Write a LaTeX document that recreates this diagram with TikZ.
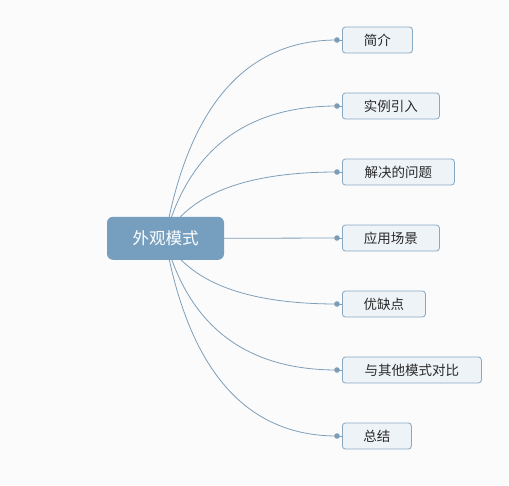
\documentclass[tikz,border=0pt]{standalone}
\usepackage{fontspec}
\newfontfamily\cjk{Noto Sans CJK SC}
\usetikzlibrary{calc,backgrounds}
\definecolor{bgc}{HTML}{FBFBFC}
\definecolor{rootfill}{HTML}{769FBF}
\definecolor{kidfill}{HTML}{EEF3F7}
\definecolor{kiddraw}{HTML}{86A8C3}
\definecolor{linec}{HTML}{7E9FB9}
\definecolor{dotc}{HTML}{7D9DB7}
\definecolor{txt}{HTML}{2A2A2A}
\tikzset{
  rootbox/.style={draw=none, fill=rootfill, rounded corners=6pt, minimum width=117pt, minimum height=43pt, inner sep=0pt, text=white, font=\cjk\fontsize{16.5}{18}\selectfont},
  kidbox/.style={draw=kiddraw, line width=0.8pt, fill=kidfill, rounded corners=3pt, minimum height=26pt, inner sep=0pt, anchor=west, text=txt, font=\cjk\fontsize{13.5}{15}\selectfont},
  link/.style={draw=linec, line width=0.8pt},
}
\begin{document}
\begin{tikzpicture}[x=1pt,y=-1pt]
\useasboundingbox (0,0) rectangle (509,485);
\node[rootbox] (root) at (165.5,238.3) {外观模式};
\coordinate (rc) at (165,238);
\node[kidbox, minimum width=70pt] (c1) at (342,40) {简介};
\node[kidbox, minimum width=97pt] (c2) at (342,106) {实例引入};
\node[kidbox, minimum width=112pt] (c3) at (342,172) {解决的问题};
\node[kidbox, minimum width=97pt] (c4) at (342,238) {应用场景};
\node[kidbox, minimum width=83pt] (c5) at (342,304) {优缺点};
\node[kidbox, minimum width=139pt] (c6) at (342,370) {与其他模式对比};
\node[kidbox, minimum width=69pt] (c7) at (342,436) {总结};
\foreach \i/\y in {1/40,2/106,3/172,4/238,5/304,6/370,7/436}{
  \coordinate (d\i) at (337,\y);
}
\begin{scope}[on background layer]
  \fill[bgc] (0,0) rectangle (509,485);
  \foreach \i/\y in {1/40,2/106,3/172,5/304,6/370,7/436}{
    \draw[link] (rc) .. controls ($(rc)!2/3!(200,\y)$) and ($(d\i)!2/3!(200,\y)$) .. (d\i);
  }
  \draw[link] (root.east) -- (d4);
  \foreach \i in {1,...,7}{
    \draw[link] (d\i) -- (c\i.west);
    \fill[dotc] (d\i) circle (2.8pt);
  }
\end{scope}
\end{tikzpicture}
\end{document}
